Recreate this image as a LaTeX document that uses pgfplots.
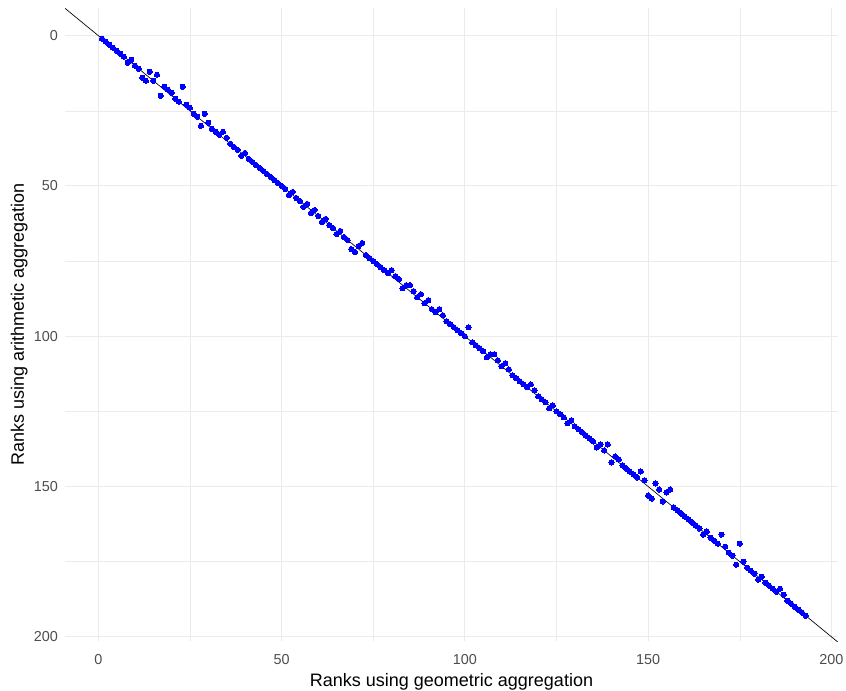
\documentclass[border=0pt]{standalone}
\usepackage{fontspec}
\setmainfont{Liberation Sans}
\usepackage{pgfplots}
\pgfplotsset{compat=1.18}
\definecolor{gridgrey}{HTML}{EBEBEB}
\definecolor{ticktext}{HTML}{4D4D4D}
\definecolor{ptblue}{HTML}{0000FF}

\begin{document}
\begin{tikzpicture}
\useasboundingbox (-48.75pt,-37.5pt) rectangle (585.75pt,480.75pt);
\begin{axis}[
  at={(289.875pt,237.375pt)}, anchor=center,
  scale only axis,
  width=579.75pt, height=474.75pt,
  xmin=-9.09, xmax=201.8,
  ymin=-9.2, ymax=201.4,
  y dir=reverse,
  axis line style={draw=none},
  major tick length=0pt, minor tick length=0pt,
  xtick={0,50,100,150,200}, ytick={0,50,100,150,200},
  minor xtick={25,75,125,175}, minor ytick={25,75,125,175},
  grid=both,
  major grid style={gridgrey, line width=0.8pt},
  minor grid style={gridgrey, line width=0.4pt},
  /pgf/number format/assume math mode=true,
  ticklabel style={font=\fontsize{10.8}{12}\selectfont, text=ticktext},
  xticklabel style={yshift=-6.8pt},
  yticklabel style={xshift=-1.8pt},
  xlabel={Ranks using geometric aggregation},
  ylabel={Ranks using arithmetic aggregation},
  label style={font=\fontsize{13.5}{15}\selectfont},
  x label style={at={(axis description cs:0.5,-0.0436)}, anchor=north},
  y label style={at={(axis description cs:-0.0423,0.5)}, rotate=0, anchor=south},
  clip=true,
]
% identity line
\addplot[black, line width=0.5pt] coordinates {(-20,-20) (220,220)};
% rank pairs (geometric, arithmetic)
\addplot[ptblue, only marks, mark=*, mark size=1.95pt, mark options={draw=ptblue, fill=ptblue, line width=0pt}] coordinates {
(1,1) (2,2) (3,3) (4,4) (5,5) (6,6) (7,7) (8,9) (9,8) (10,10)
(11,11) (12,14) (13,15) (14,12) (15,15) (16,13) (17,20) (18,17) (19,18) (20,19)
(21,21) (22,22) (23,17) (24,23) (25,24) (26,26) (27,27) (28,30) (29,26) (30,29)
(31,31) (32,32) (33,33) (34,32) (35,34) (36,36) (37,37) (38,38) (39,40) (40,39)
(41,41) (42,42) (43,43) (44,44) (45,45) (46,46) (47,47) (48,48) (49,49) (50,50)
(51,51) (52,53) (53,52) (54,54) (55,55) (56,57) (57,56) (58,59) (59,58) (60,60)
(61,62) (62,61) (63,63) (64,64) (65,66) (66,65) (67,67) (68,68) (69,71) (70,72)
(71,70) (72,69) (73,73) (74,74) (75,75) (76,76) (77,77) (78,78) (79,79) (80,78)
(81,80) (82,81) (83,84) (84,83) (85,83) (86,85) (87,87) (88,86) (89,89) (90,88)
(91,91) (92,92) (93,91) (94,93) (95,95) (96,96) (97,97) (98,98) (99,99) (100,100)
(101,97) (102,102) (103,103) (104,104) (105,105) (106,107) (107,106) (108,106) (109,108) (110,110)
(111,109) (112,111) (113,113) (114,114) (115,115) (116,116) (117,117) (118,116) (119,118) (120,120)
(121,121) (122,122) (123,124) (124,123) (125,125) (126,126) (127,127) (128,129) (129,128) (130,130)
(131,131) (132,132) (133,133) (134,134) (135,135) (136,137) (137,136) (138,138) (139,136) (140,142)
(141,140) (142,141) (143,143) (144,144) (145,145) (146,146) (147,147) (148,145) (149,148) (150,153)
(151,154) (152,149) (153,151) (154,155) (155,152) (156,151) (157,157) (158,158) (159,159) (160,160)
(161,161) (162,162) (163,163) (164,164) (165,166) (166,165) (167,167) (168,168) (169,169) (170,166)
(171,170) (172,172) (173,173) (174,176) (175,169) (176,175) (177,177) (178,178) (179,179) (180,181)
(181,180) (182,182) (183,183) (184,184) (185,185) (186,184) (187,186) (188,188) (189,189) (190,190)
(191,191) (192,192) (193,193)
};
\end{axis}
\end{tikzpicture}
\end{document}
